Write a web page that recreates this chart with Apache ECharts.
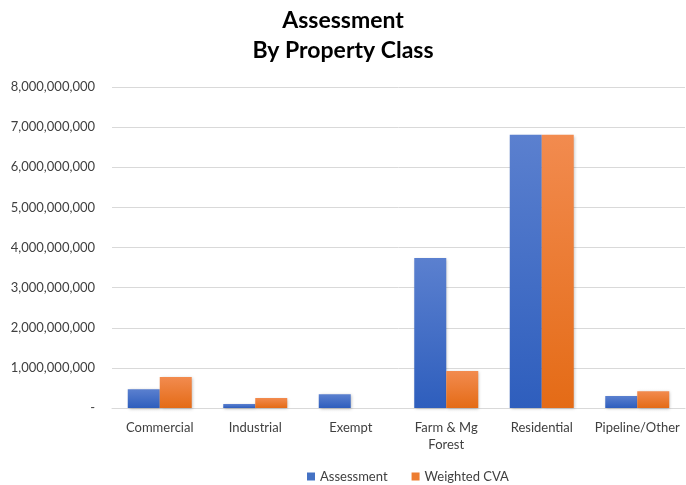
<!DOCTYPE html>
<html><head><meta charset="utf-8">
<script src="https://cdn.jsdelivr.net/npm/echarts@6/dist/echarts.min.js"></script>
<style>html,body{margin:0;padding:0;background:#fff}#c{width:686px;height:485px}</style>
</head><body><div id="c"></div>
<script>
const categories = ['Commercial', 'Industrial', 'Exempt', 'Farm & Mg\nForest', 'Residential', 'Pipeline/Other'];
const assessment = [470000000, 100000000, 340000000, 3740000000, 6810000000, 300000000];
const weightedCVA = [770000000, 250000000, 0, 920000000, 6810000000, 420000000];
const yTicks = [0, 1000000000, 2000000000, 3000000000, 4000000000, 5000000000, 6000000000, 7000000000, 8000000000];

const FONT = 'Lato, "Open Sans", sans-serif';
const chart = echarts.init(document.getElementById('c'), null, {renderer: 'canvas'});
function grad(top, bottom) {
  return new echarts.graphic.LinearGradient(0, 0, 0, 1, [{offset: 0, color: top}, {offset: 1, color: bottom}]);
}
chart.setOption({
  animation: false,
  backgroundColor: '#fff',
  title: {
    text: 'Assessment\nBy Property Class',
    left: 'center', top: 1,
    textStyle: {fontFamily: FONT, fontSize: 23, fontWeight: 'bold', color: '#000', lineHeight: 30}
  },
  legend: {
    top: 465, left: 302,
    itemWidth: 8, itemHeight: 8, itemGap: 24,
    icon: 'rect',
    textStyle: {fontFamily: FONT, fontSize: 13, color: '#404040'},
    data: [
      {name: 'Assessment', itemStyle: {color: '#4472c4'}},
      {name: 'Weighted CVA', itemStyle: {color: '#ed7d31'}}
    ]
  },
  grid: {left: 112, right: 1, top: 87, bottom: 77, containLabel: false},
  xAxis: {
    type: 'category', data: categories,
    axisLine: {lineStyle: {color: '#d9d9d9'}},
    axisTick: {show: false},
    axisLabel: {fontFamily: FONT, fontSize: 13, color: '#404040', margin: 11, interval: 0, lineHeight: 17}
  },
  yAxis: {
    type: 'value', min: yTicks[0], max: yTicks[yTicks.length - 1], interval: 1000000000,
    axisLine: {show: false}, axisTick: {show: false},
    splitLine: {lineStyle: {color: '#d9d9d9'}},
    axisLabel: {
      fontFamily: FONT, fontSize: 13, color: '#404040', margin: 17,
      formatter: v => v === 0 ? '-' : v.toLocaleString('en-US')
    }
  },
  series: [
    {
      name: 'Assessment', type: 'bar', data: assessment, barGap: '0%', barCategoryGap: '33%',
      itemStyle: {color: grad('#5b80cf', '#2e5ebd'), shadowBlur: 3, shadowColor: 'rgba(0,0,0,0.25)', shadowOffsetX: 1, shadowOffsetY: 1}
    },
    {
      name: 'Weighted CVA', type: 'bar', data: weightedCVA,
      itemStyle: {color: grad('#f28b4f', '#e46b16'), shadowBlur: 3, shadowColor: 'rgba(0,0,0,0.25)', shadowOffsetX: 1, shadowOffsetY: 1}
    }
  ]
});
</script></body></html>
